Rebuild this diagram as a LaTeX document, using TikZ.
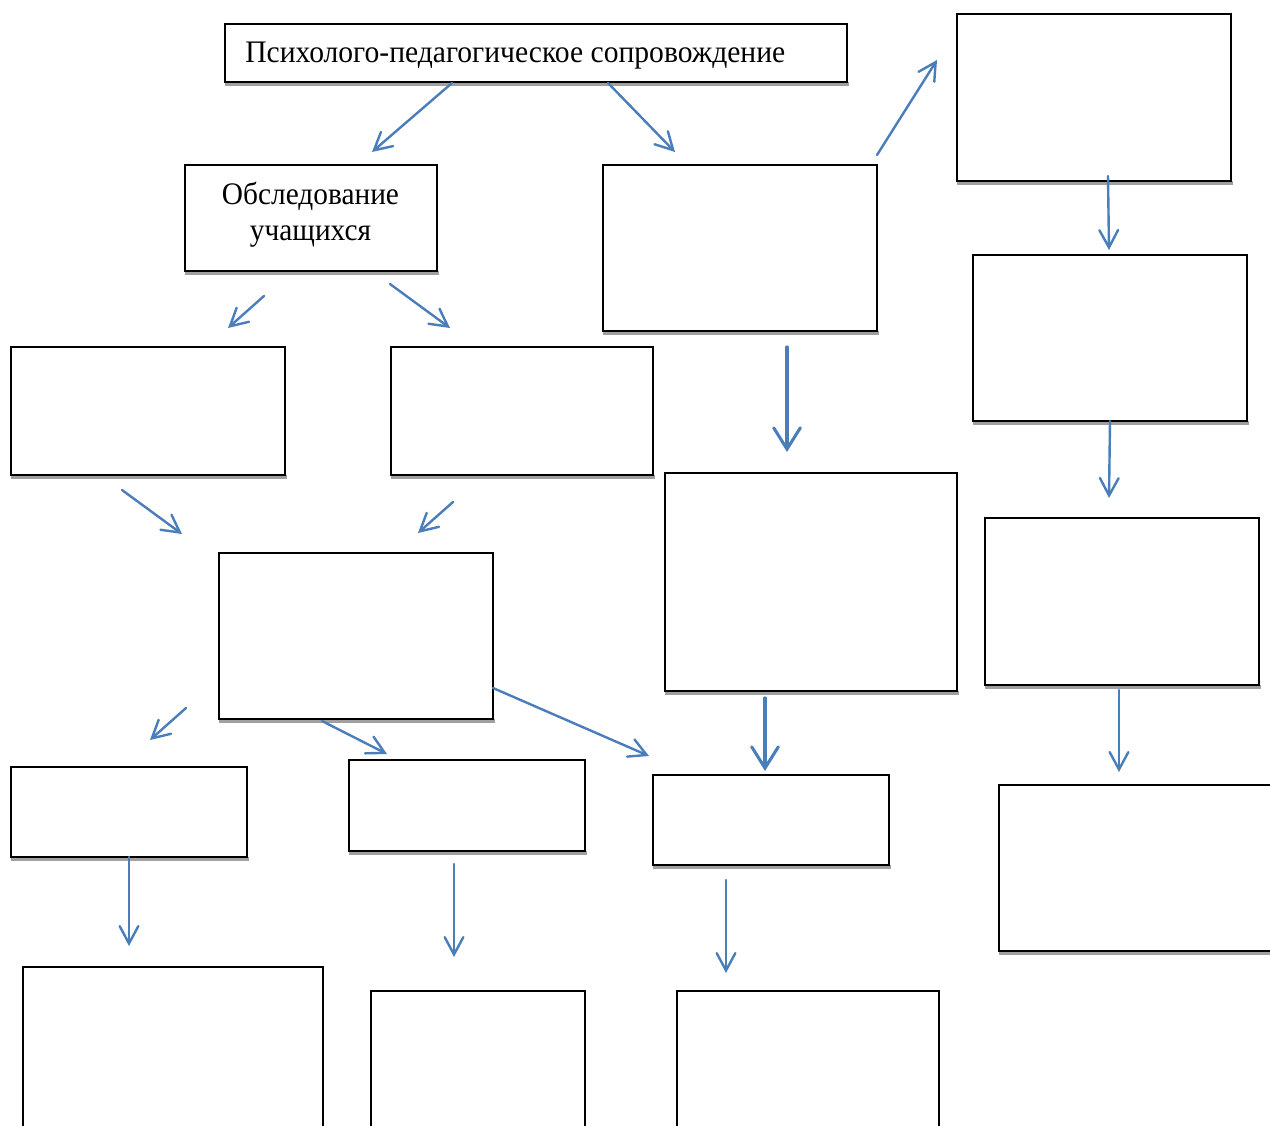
\documentclass[tikz,border=0pt]{standalone}
\usepackage{fontspec}
\setmainfont{Liberation Serif}
\usetikzlibrary{arrows.meta}
\definecolor{arrowblue}{RGB}{74,126,187}
\definecolor{shadowgray}{RGB}{160,160,160}
\tikzset{
  box/.style={draw=black, line width=1.2pt, fill=white, inner sep=0pt, outer sep=0pt, anchor=north west},
  arr/.style={draw=arrowblue, line width=1.8pt, line cap=round, -{Straight Barb[length=13pt,width=14pt,line cap=round]}},
  thickarr/.style={draw=arrowblue, line width=2.3pt, line cap=round, -{Straight Barb[length=16pt,width=20pt,line cap=round]}},
  lbl/.style={inner sep=0pt, font=\fontsize{23.5pt}{28pt}\selectfont}
}
\newcommand\mkbox[5]{%
  \fill[shadowgray] (#2,#5) rectangle (#4+2,#5+4);
  \node[box, minimum width={(#4-#2)*0.75pt}, minimum height={(#5-#3)*0.75pt}] (#1) at (#2,#3) {};}
\newcommand\mkarrow[6][arr]{%
  \coordinate (#2s) at (#3,#4);
  \coordinate (#2e) at (#5,#6);
  \draw[#1] (#2s) -- (#2e);}
\begin{document}
\begin{tikzpicture}[x=0.75pt,y=-0.75pt]
\useasboundingbox (0,0) rectangle (1270,1126);
\clip (0,0) rectangle (1270,1126);
\fill[white] (0,0) rectangle (1270,1126);
% boxes
\mkbox{T}{225}{24}{847}{82}
\mkbox{O}{185}{165}{437}{271}
\mkbox{B}{603}{165}{877}{331}
\mkbox{R1}{957}{14}{1231}{181}
\mkbox{R2}{973}{255}{1247}{421}
\mkbox{R3}{985}{518}{1259}{685}
\mkbox{R4}{999}{785}{1285}{951}
\mkbox{L1}{11}{347}{285}{475}
\mkbox{L2}{391}{347}{653}{475}
\mkbox{C}{219}{553}{493}{719}
\mkbox{M}{665}{473}{957}{691}
\mkbox{S1}{11}{767}{247}{857}
\mkbox{S2}{349}{760}{585}{851}
\mkbox{S3}{653}{775}{889}{865}
\mkbox{D1}{23}{967}{323}{1160}
\mkbox{D2}{371}{991}{585}{1160}
\mkbox{D3}{677}{991}{939}{1160}
% texts
\node[lbl, anchor=base west] (Ttext) at (245,62.5) {\resizebox{405pt}{\height}{Психолого-педагогическое сопровождение}};
\node[lbl, anchor=base] (Otext1) at (310.5,205) {\resizebox{132.75pt}{\height}{Обследование}};
\node[lbl, anchor=base] (Otext2) at (310.5,241) {\resizebox{90.75pt}{\height}{учащихся}};
% arrows
\mkarrow{a1}{452}{83}{372}{152}
\mkarrow{a2}{608}{83}{675}{152}
\mkarrow{a3}{877}{155}{937}{60}
\mkarrow{a4}{1108}{176}{1109}{250}
\mkarrow{a5}{264}{296}{228}{328}
\mkarrow{a6}{390}{284}{450}{328}
\mkarrow[thickarr]{a7}{787}{347}{787}{452}
\mkarrow{a8}{1110}{421}{1109}{498}
\mkarrow{a9}{122}{490}{182}{534}
\mkarrow{a10}{453}{502}{418}{533}
\mkarrow{a11}{186}{708}{150}{740}
\mkarrow{a12}{322}{721}{387}{754}
\mkarrow{a13}{493}{688}{649}{756}
\mkarrow[thickarr]{a14}{765}{698}{765}{771}
\mkarrow{a15}{1119}{690}{1119}{772}
\mkarrow{a16}{129}{857}{129}{946}
\mkarrow{a17}{454}{864}{454}{957}
\mkarrow{a18}{726}{880}{726}{973}
\end{tikzpicture}
\end{document}
